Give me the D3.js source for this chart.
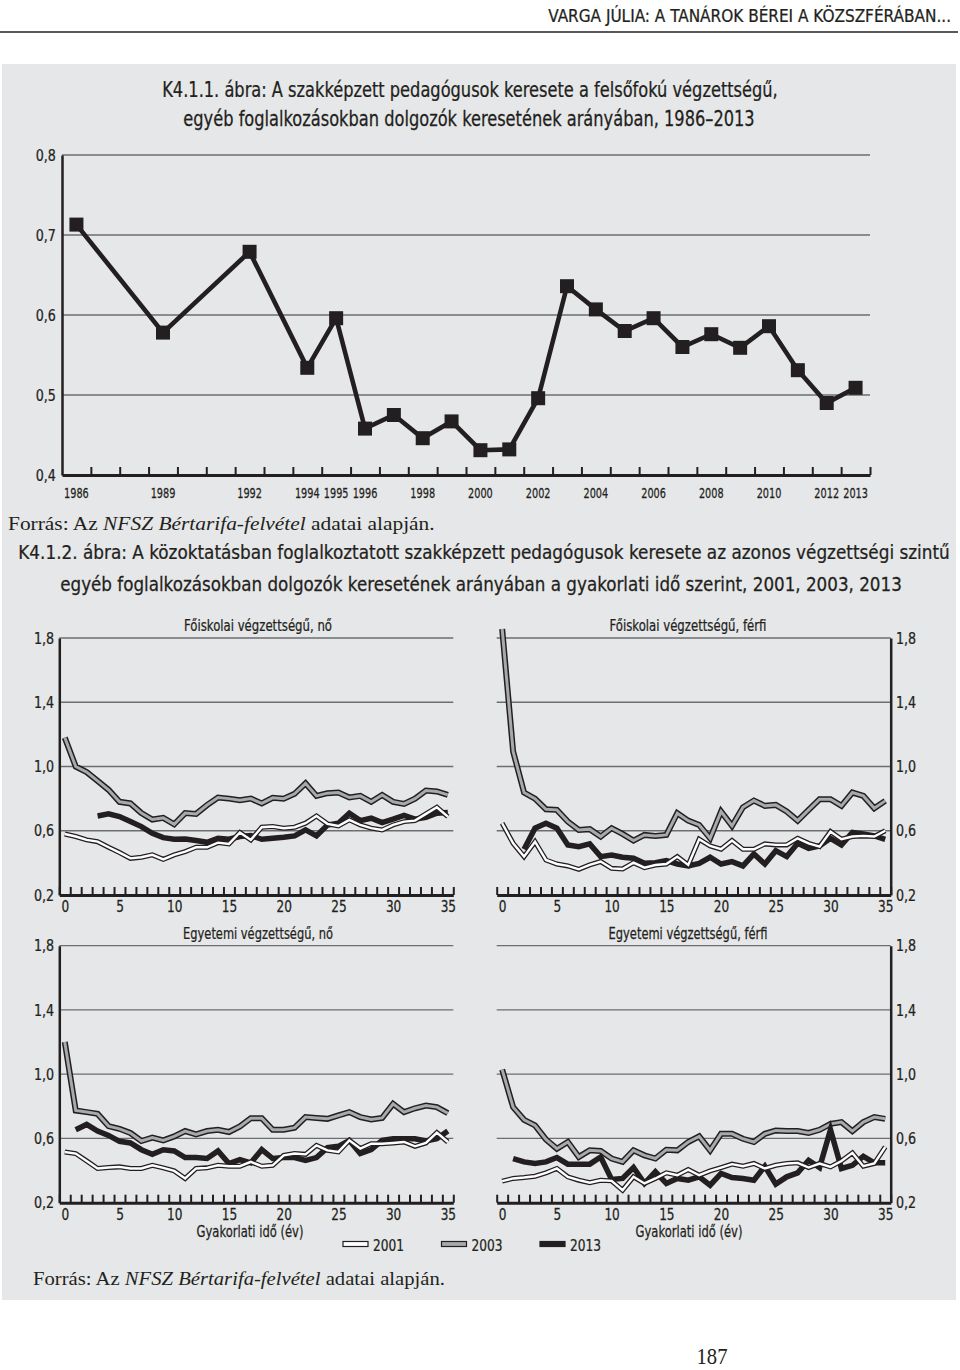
<!DOCTYPE html>
<html>
<head>
<meta charset="utf-8">
<script src="https://cdn.jsdelivr.net/npm/d3@7"></script>
<style>
  body { margin: 0; background: #fff; }
  .cond { font-family: "Liberation Sans Narrow", "DejaVu Sans Condensed", "Arial Narrow", sans-serif; font-stretch: condensed; fill: #231f20; stroke: #231f20; stroke-width: 0.25; }
  .serif { font-family: "Liberation Serif", "DejaVu Serif", serif; fill: #231f20; }
</style>
</head>
<body>
<svg id="chart" width="960" height="1370"></svg>
<script>
// ---- K4.1.1 : yearly ratio ----
var years = [1986, 1989, 1992, 1994, 1995, 1996, 1997, 1998, 1999, 2000, 2001, 2002, 2003, 2004,
             2005, 2006, 2007, 2008, 2009, 2010, 2011, 2012, 2013];
var ratio = [0.713, 0.578, 0.679, 0.534, 0.596, 0.458, 0.475, 0.446, 0.467, 0.431, 0.432, 0.496, 0.636,
             0.607, 0.580, 0.596, 0.560, 0.576, 0.559, 0.586, 0.531, 0.490, 0.509];
var allYears = [1986, 1987, 1988, 1989, 1990, 1991, 1992, 1993, 1994, 1995, 1996, 1997, 1998, 1999,
                2000, 2001, 2002, 2003, 2004, 2005, 2006, 2007, 2008, 2009, 2010, 2011, 2012, 2013];
var yearLabels = [1986, 1989, 1992, 1994, 1995, 1996, 1998, 2000, 2002, 2004, 2006, 2008, 2010, 2012, 2013];
var ratioTicks = [0.4, 0.5, 0.6, 0.7, 0.8];

// ---- K4.1.2 : by experience (0..35 years) ----
var experience = [0, 1, 2, 3, 4, 5, 6, 7, 8, 9, 10, 11, 12, 13, 14, 15, 16, 17,
                  18, 19, 20, 21, 22, 23, 24, 25, 26, 27, 28, 29, 30, 31, 32, 33, 34, 35];
var expLabels = [0, 5, 10, 15, 20, 25, 30, 35];
var panelTicks = [0.2, 0.6, 1.0, 1.4, 1.8];

// Főiskolai, nő
var fnoi2001 = [0.580, 0.564, 0.543, 0.532, 0.497, 0.464, 0.428, 0.435, 0.450, 0.422, 0.450, 0.470,
                0.497, 0.497, 0.526, 0.518, 0.589, 0.543, 0.622, 0.626, 0.616, 0.622, 0.647, 0.692,
                0.643, 0.630, 0.668, 0.636, 0.616, 0.605, 0.636, 0.657, 0.663, 0.705, 0.746, 0.688];
var fnoi2003 = [1.180, 1.000, 0.965, 0.910, 0.855, 0.780, 0.770, 0.710, 0.670, 0.680, 0.640, 0.710,
                0.705, 0.760, 0.807, 0.800, 0.790, 0.800, 0.770, 0.805, 0.800, 0.830, 0.895, 0.817,
                0.834, 0.838, 0.807, 0.817, 0.780, 0.823, 0.780, 0.767, 0.800, 0.850, 0.845, 0.823];
var fnoi2013 = [null, null, null, 0.692, 0.705, 0.688, 0.657, 0.626, 0.584, 0.557, 0.547, 0.549,
                0.539, 0.528, 0.553, 0.547, 0.564, 0.570, 0.547, 0.553, 0.559, 0.568, 0.605, 0.568,
                0.636, 0.647, 0.709, 0.663, 0.678, 0.651, 0.672, 0.695, 0.672, 0.684, 0.709, 0.713];
// Főiskolai, férfi
var ffer2001 = [0.647, 0.522, 0.439, 0.532, 0.418, 0.393, 0.381, 0.360, 0.387, 0.408, 0.366, 0.362,
                0.401, 0.370, 0.387, 0.393, 0.439, 0.387, 0.547, 0.505, 0.485, 0.539, 0.485, 0.485,
                0.518, 0.512, 0.512, 0.553, 0.522, 0.501, 0.595, 0.547, 0.564, 0.568, 0.564, 0.600];
var ffer2003 = [1.856, 1.094, 0.838, 0.800, 0.734, 0.730, 0.657, 0.605, 0.610, 0.564, 0.616, 0.580,
                0.539, 0.574, 0.568, 0.574, 0.709, 0.663, 0.636, 0.553, 0.720, 0.630, 0.746, 0.788,
                0.755, 0.761, 0.720, 0.663, 0.730, 0.796, 0.796, 0.755, 0.838, 0.817, 0.740, 0.786];
var ffer2013 = [null, null, 0.485, 0.616, 0.647, 0.616, 0.512, 0.501, 0.518, 0.439, 0.449, 0.435,
                0.429, 0.397, 0.401, 0.414, 0.393, 0.381, 0.397, 0.435, 0.393, 0.408, 0.381, 0.456,
                0.393, 0.476, 0.439, 0.522, 0.491, 0.505, 0.553, 0.512, 0.589, 0.580, 0.568, 0.547];
// Egyetemi, nő
var enoi2001 = [0.516, 0.506, 0.460, 0.413, 0.419, 0.423, 0.413, 0.413, 0.433, 0.417, 0.398, 0.351,
                0.413, 0.417, 0.433, 0.427, 0.427, 0.454, 0.427, 0.433, 0.495, 0.506, 0.501, 0.557,
                0.526, 0.516, 0.588, 0.537, 0.567, 0.567, 0.572, 0.578, 0.551, 0.572, 0.636, 0.578];
var enoi2003 = [1.201, 0.774, 0.764, 0.753, 0.677, 0.660, 0.634, 0.584, 0.605, 0.588, 0.613, 0.646,
                0.625, 0.646, 0.654, 0.640, 0.675, 0.726, 0.726, 0.654, 0.654, 0.667, 0.733, 0.728,
                0.722, 0.743, 0.764, 0.733, 0.718, 0.728, 0.815, 0.764, 0.788, 0.805, 0.795, 0.757];
var enoi2013 = [null, 0.654, 0.687, 0.646, 0.619, 0.582, 0.572, 0.530, 0.501, 0.530, 0.522, 0.481,
                0.481, 0.475, 0.522, 0.444, 0.468, 0.448, 0.530, 0.475, 0.481, 0.481, 0.464, 0.481,
                0.543, 0.551, 0.588, 0.506, 0.530, 0.588, 0.598, 0.598, 0.598, 0.584, 0.598, 0.646];
// Egyetemi, férfi
var efer2001 = [0.334, 0.351, 0.357, 0.365, 0.386, 0.413, 0.361, 0.340, 0.324, 0.340, 0.336, 0.278,
                0.361, 0.320, 0.351, 0.386, 0.371, 0.406, 0.371, 0.398, 0.419, 0.440, 0.427, 0.444,
                0.413, 0.433, 0.444, 0.448, 0.419, 0.444, 0.423, 0.460, 0.510, 0.427, 0.444, 0.547];
var efer2003 = [1.028, 0.795, 0.716, 0.681, 0.594, 0.536, 0.578, 0.485, 0.526, 0.522, 0.475, 0.454,
                0.526, 0.495, 0.475, 0.530, 0.526, 0.578, 0.613, 0.526, 0.629, 0.629, 0.598, 0.578,
                0.629, 0.650, 0.646, 0.646, 0.634, 0.654, 0.691, 0.702, 0.646, 0.702, 0.733, 0.722];
var efer2013 = [null, 0.475, 0.454, 0.444, 0.454, 0.481, 0.440, 0.440, 0.440, 0.485, 0.345, 0.351,
                0.419, 0.320, 0.392, 0.320, 0.351, 0.340, 0.361, 0.309, 0.382, 0.357, 0.351, 0.340,
                0.427, 0.316, 0.361, 0.386, 0.464, 0.419, 0.654, 0.413, 0.433, 0.489, 0.448, 0.448];

var seriesNames = ['2001', '2003', '2013'];

var INK = '#231f20', GREY = '#a7a9ac', GRID = '#6d6e71';
var fmt = d3.formatLocale({decimal: ',', thousands: ' ', grouping: [3], currency: ['', '']}).format('.1f');

var svg = d3.select('#chart');

// draws a text and squeezes it horizontally to the width it has in the print
function fitText(parent, cls, x, y, size, anchor, width, fill) {
  var t = parent.append('text').attr('class', cls).attr('font-size', size).attr('text-anchor', anchor);
  fill(t);
  var w = t.node().getComputedTextLength();
  t.attr('transform', 'translate(' + x + ',' + y + ') scale(' + (width / w) + ',1)');
  return t;
}
function plain(txt) { return function (t) { t.text(txt); }; }
function sourceText(t) {
  t.append('tspan').text('Forrás: Az ');
  t.append('tspan').attr('font-style', 'italic').text('NFSZ Bértarifa-felvétel');
  t.append('tspan').text(' adatai alapján.');
}

// page header
fitText(svg, 'cond', 951, 22, 17, 'end', 403, plain('VARGA JÚLIA: A TANÁROK BÉREI A KÖZSZFÉRÁBAN...'));
svg.append('line').attr('x1', 0).attr('x2', 958).attr('y1', 32).attr('y2', 32)
    .attr('stroke', '#58595b').attr('stroke-width', 2);

// grey box
svg.append('rect').attr('x', 2).attr('y', 64).attr('width', 954).attr('height', 1236).attr('fill', '#e6e7e8');

fitText(svg, 'cond', 470, 97, 20.5, 'middle', 616, plain('K4.1.1. ábra: A szakképzett pedagógusok keresete a felsőfokú végzettségű,'));
fitText(svg, 'cond', 469, 126, 20.5, 'middle', 572, plain('egyéb foglalkozásokban dolgozók keresetének arányában, 1986–2013'));

// ---- chart 1 ----
(function () {
  var x = d3.scaleBand().domain(allYears).range([62, 870]);
  var xi = d3.scaleLinear().domain([0, allYears.length]).range([62, 870]);
  var y = d3.scaleLinear().domain([0.4, 0.8]).range([475, 155]);
  var cx = function (yr) { return x(yr) + x.bandwidth() / 2; };
  var g = svg.append('g');

  g.append('g').selectAll('line').data(ratioTicks.slice(1)).join('line')
      .attr('x1', 62).attr('x2', 870).attr('y1', y).attr('y2', y)
      .attr('stroke', GRID).attr('stroke-width', 1.5);

  var ya = g.append('g').attr('transform', 'translate(62,0)')
      .call(d3.axisLeft(y).tickValues(ratioTicks).tickSize(0).tickPadding(7).tickFormat(fmt));
  ya.select('.domain').attr('stroke', INK).attr('stroke-width', 2.5);
  ya.selectAll('text').attr('class', 'cond').attr('font-size', 16).attr('font-family', null)
      .attr('transform', 'scale(0.88,1)');

  var xt = g.append('g').attr('transform', 'translate(0,475)')
      .call(d3.axisTop(xi).tickValues(d3.range(1, allYears.length + 1)).tickSize(8).tickSizeOuter(0).tickFormat(''));
  xt.select('.domain').attr('stroke', INK).attr('stroke-width', 3);
  xt.selectAll('.tick line').attr('stroke', INK).attr('stroke-width', 2);

  var xl = g.append('g').attr('transform', 'translate(0,475)')
      .call(d3.axisBottom(x).tickValues(yearLabels).tickSize(0).tickPadding(13));
  xl.select('.domain').remove();
  xl.selectAll('text').attr('class', 'cond').attr('font-size', 13.5).attr('font-family', null)
      .attr('transform', 'scale(0.8,1)');

  g.append('path').datum(ratio)
      .attr('fill', 'none').attr('stroke', INK).attr('stroke-width', 4.6).attr('stroke-linejoin', 'miter')
      .attr('d', d3.line().x(function (d, i) { return cx(years[i]); }).y(function (d) { return y(d); }));

  g.append('g').selectAll('rect').data(ratio).join('rect')
      .attr('x', function (d, i) { return cx(years[i]) - 7; })
      .attr('y', function (d) { return y(d) - 7; })
      .attr('width', 14).attr('height', 14).attr('fill', INK);
})();

fitText(svg, 'serif', 8, 530, 18, 'start', 427, sourceText);
fitText(svg, 'cond', 484, 559, 20, 'middle', 932, plain('K4.1.2. ábra: A közoktatásban foglalkoztatott szakképzett pedagógusok keresete az azonos végzettségi szintű'));
fitText(svg, 'cond', 481, 591, 20, 'middle', 842, plain('egyéb foglalkozásokban dolgozók keresetének arányában a gyakorlati idő szerint, 2001, 2003, 2013'));

// ---- chart 2 : four panels ----
function panel(cfg) {
  var xb = d3.scaleLinear().domain([-0.5, experience.length - 0.5]).range([cfg.x0, cfg.x1]);
  var y = d3.scaleLinear().domain([0.2, 1.8]).range([cfg.yb, cfg.yb - 257]);
  var g = svg.append('g');

  g.append('g').selectAll('line').data(panelTicks.slice(1)).join('line')
      .attr('x1', cfg.x0).attr('x2', cfg.x1).attr('y1', y).attr('y2', y)
      .attr('stroke', GRID).attr('stroke-width', 1.3);

  fitText(g, 'cond', cfg.tx, cfg.yb - 264, 16, 'middle', cfg.tw, plain(cfg.title));

  var line = d3.line().defined(function (d) { return d != null; })
      .x(function (d, i) { return xb(experience[i]); }).y(function (d) { return y(d); });

  function draw(data, w, color) {
    g.append('path').datum(data).attr('fill', 'none').attr('stroke', color)
        .attr('stroke-width', w).attr('stroke-linejoin', 'miter').attr('d', line);
  }
  draw(cfg.s2003, 6, INK); draw(cfg.s2003, 3, GREY);
  draw(cfg.s2013, 5.5, INK);
  draw(cfg.s2001, 5, INK); draw(cfg.s2001, 2.4, '#fff');

  var ax = cfg.right ? cfg.x1 : cfg.x0;
  var ya = g.append('g').attr('transform', 'translate(' + ax + ',0)')
      .call((cfg.right ? d3.axisRight(y) : d3.axisLeft(y)).tickValues(panelTicks).tickSize(0).tickPadding(6).tickFormat(fmt));
  ya.select('.domain').attr('stroke', INK).attr('stroke-width', 2.5);
  ya.selectAll('text').attr('class', 'cond').attr('font-size', 16).attr('font-family', null)
      .attr('transform', 'scale(0.88,1)');

  var xt = g.append('g').attr('transform', 'translate(0,' + cfg.yb + ')')
      .call(d3.axisTop(xb).tickValues(d3.range(-0.5, experience.length, 1)).tickSize(8).tickSizeOuter(0).tickFormat(''));
  xt.select('.domain').attr('stroke', INK).attr('stroke-width', 3);
  xt.selectAll('.tick line').attr('stroke', INK).attr('stroke-width', 2);

  var xl = g.append('g').attr('transform', 'translate(0,' + cfg.yb + ')')
      .call(d3.axisBottom(xb).tickValues(expLabels).tickSize(0).tickPadding(6));
  xl.select('.domain').remove();
  xl.selectAll('text').attr('class', 'cond').attr('font-size', 16).attr('font-family', null)
      .attr('transform', 'scale(0.84,1)');

  if (cfg.xtitle) {
    fitText(g, 'cond', cfg.xtx, cfg.yb + 34, 16, 'middle', 107, plain('Gyakorlati idő (év)'));
  }
}

panel({x0: 59.3, x1: 453.3, yb: 895, tx: 258, tw: 148, title: 'Főiskolai végzettségű, nő',
       s2001: fnoi2001, s2003: fnoi2003, s2013: fnoi2013});
panel({x0: 496.7, x1: 890.7, yb: 895, tx: 688, tw: 157, right: true, title: 'Főiskolai végzettségű, férfi',
       s2001: ffer2001, s2003: ffer2003, s2013: ffer2013});
panel({x0: 59.3, x1: 453.3, yb: 1202.7, tx: 258, tw: 150, title: 'Egyetemi végzettségű, nő', xtitle: true, xtx: 250,
       s2001: enoi2001, s2003: enoi2003, s2013: enoi2013});
panel({x0: 496.7, x1: 890.7, yb: 1202.7, tx: 688, tw: 159, right: true, title: 'Egyetemi végzettségű, férfi', xtitle: true, xtx: 689,
       s2001: efer2001, s2003: efer2003, s2013: efer2013});

// legend
var legX = d3.scalePoint().domain(seriesNames).range([343, 540]);
var swatch = {'2001': '#fff', '2003': GREY, '2013': INK};
var lg = svg.append('g').selectAll('g').data(seriesNames).join('g')
    .attr('transform', function (d) { return 'translate(' + legX(d) + ',1244)'; });
lg.append('rect').attr('x', 0).attr('y', -2.5).attr('width', 25).attr('height', 5)
    .attr('fill', function (d) { return swatch[d]; }).attr('stroke', INK).attr('stroke-width', 1.2);
lg.each(function (d) { fitText(d3.select(this), 'cond', 30, 7, 16, 'start', 31, plain(d)); });

fitText(svg, 'serif', 33, 1285, 18.5, 'start', 412, sourceText);

fitText(svg, 'serif', 712, 1364, 24, 'middle', 31, plain('187'));
</script>
</body>
</html>
